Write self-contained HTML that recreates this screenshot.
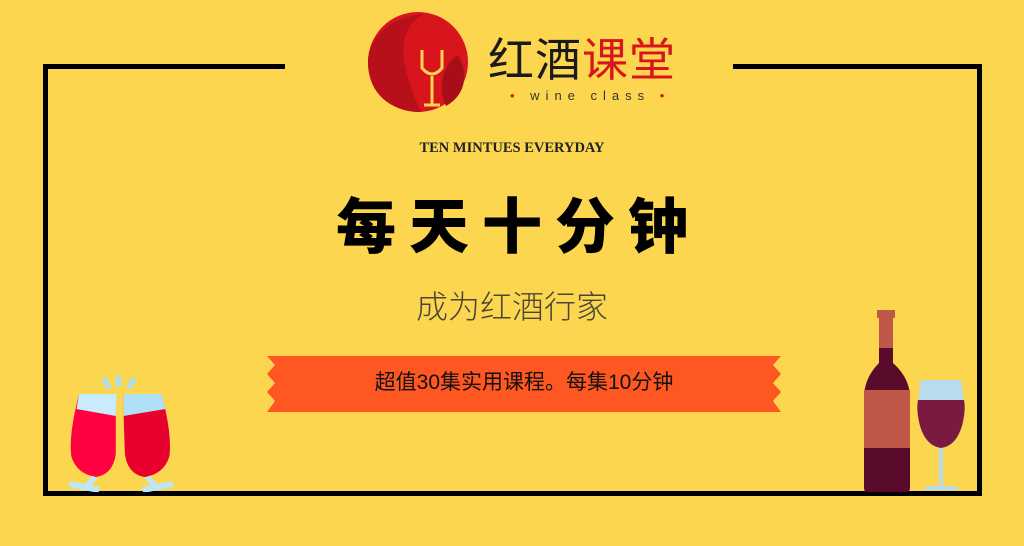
<!DOCTYPE html>
<html><head><meta charset="utf-8">
<style>
html,body{margin:0;padding:0}
body{width:1024px;height:546px;background:#FDD650;position:relative;overflow:hidden;font-family:"Liberation Sans","Noto Sans CJK SC",sans-serif}
.abs{position:absolute}
.line{position:absolute;background:#000}
</style></head><body>
<div class="line" style="left:43px;top:64px;width:242px;height:5px"></div>
<div class="line" style="left:733px;top:64px;width:249px;height:5px"></div>
<div class="line" style="left:43px;top:64px;width:5px;height:432px"></div>
<div class="line" style="left:977px;top:64px;width:5px;height:432px"></div>
<div class="line" style="left:43px;top:491px;width:939px;height:5px"></div>

<svg class="abs" style="left:366px;top:10px" width="106" height="104" viewBox="0 0 106 104">
<circle cx="52" cy="52" r="50" fill="#D8141C"/>
<path d="M58 4 C30 20 32 50 55 102 L52 102 C20 100 2 80 2 52 C2 28 25 6 58 4Z" fill="#B8101A"/>
<path d="M92 45 C75 55 72 80 80 96 C98 86 104 66 92 45Z" fill="#A80E18"/>
<path d="M56 40 L56 58 Q66 70 76 58 L76 40" stroke="#FDD650" stroke-width="3" fill="none"/>
<line x1="66" y1="66" x2="66" y2="95" stroke="#FDD650" stroke-width="3"/>
<line x1="58" y1="95" x2="74" y2="95" stroke="#FDD650" stroke-width="3"/>
</svg>
<div class="abs" style="left:488px;top:34px;font-size:46px;line-height:52px;letter-spacing:1px;font-weight:400"><span style="color:#1a1a1a">红酒</span><span style="color:#D8141C">课堂</span></div>
<div class="abs" style="left:510px;top:88px;font-size:13px;letter-spacing:6px;color:#333"><span style="color:#D8141C">•</span> wine class <span style="color:#D8141C">•</span></div>

<div class="abs" style="left:0;width:1024px;top:140px;text-align:center;font-family:'Liberation Serif',serif;font-weight:bold;font-size:14.5px;color:#222">TEN MINTUES EVERYDAY</div>
<div class="abs" style="left:0;width:1024px;top:190px;text-align:center;font-weight:900;font-size:60px;line-height:76px;letter-spacing:13px;text-indent:13px;color:#000">每天十分钟</div>
<div class="abs" style="left:0;width:1024px;top:287px;text-align:center;font-weight:300;font-size:32px;line-height:40px;color:#4a4636">成为红酒行家</div>

<svg class="abs" style="left:265px;top:356px" width="518" height="56" viewBox="0 0 518 56">
<path d="M2 0 L516 0 L508 9 L516 18 L508 27 L516 36 L508 45 L516 56 L2 56 L10 45 L2 36 L10 27 L2 18 L10 9 Z" fill="#FF5722"/>
</svg>
<div class="abs" style="left:265px;width:518px;top:368px;text-align:center;font-size:21px;line-height:30px;color:#111">超值30集实用课程。每集10分钟</div>

<svg class="abs" style="left:66px;top:374px" width="110" height="118" viewBox="4 0 84 118" preserveAspectRatio="none">
<g fill="#A8DDF2"><rect x="33" y="3" width="4" height="12" rx="2" transform="rotate(-25 35 9)"/><rect x="42" y="1" width="4" height="12" rx="2"/><rect x="52" y="3" width="4" height="12" rx="2" transform="rotate(25 54 9)"/></g>
<path d="M14 20 L43 20 L42 42 L42 80 Q40 100 27 103 Q12 100 8 82 Q6 60 14 20Z" fill="#FF0040"/>
<path d="M14 20 L43 20 L42 42 L12 35Z" fill="#C8ECFA"/>
<path d="M48 20 L77 20 Q85 60 83 82 Q79 100 64 103 Q51 100 49 80 L48 42Z" fill="#E8002E"/>
<path d="M48 20 L77 20 L80 35 L48 42Z" fill="#B0E0F5"/>
<line x1="26" y1="103" x2="20" y2="112" stroke="#BFE6F7" stroke-width="5"/>
<line x1="66" y1="103" x2="72" y2="112" stroke="#BFE6F7" stroke-width="5"/>
<rect x="6" y="110" width="24" height="6" fill="#BFE6F7" transform="rotate(15 18 113)"/>
<rect x="62" y="110" width="24" height="6" fill="#BFE6F7" transform="rotate(-15 74 113)"/>
</svg>

<svg class="abs" style="left:860px;top:308px" width="54" height="186" viewBox="0 0 54 186">
<rect x="17" y="2" width="18" height="8" fill="#C0584A"/>
<rect x="19" y="8" width="14" height="32" fill="#C0584A"/>
<path d="M19 40 L33 40 L33 55 Q50 70 50 90 L50 180 Q50 184 46 184 L8 184 Q4 184 4 180 L4 90 Q4 70 19 55Z" fill="#5A0A2A"/>
<rect x="4" y="82" width="46" height="58" fill="#C0584A"/>
</svg>
<svg class="abs" style="left:916px;top:378px" width="50" height="116" viewBox="0 0 50 116">
<path d="M5 2 L45 2 Q50 30 46 48 Q40 68 25 70 Q10 68 4 48 Q0 30 5 2Z" fill="#B8DCEC"/>
<path d="M2 22 L48 22 Q50 32 46 48 Q40 68 25 70 Q10 68 4 48 Q0 32 2 22Z" fill="#7A1A40"/>
<rect x="23" y="70" width="4" height="40" fill="#B8DCEC"/>
<rect x="9" y="108" width="32" height="4" fill="#B8DCEC"/>
</svg>
</body></html>
